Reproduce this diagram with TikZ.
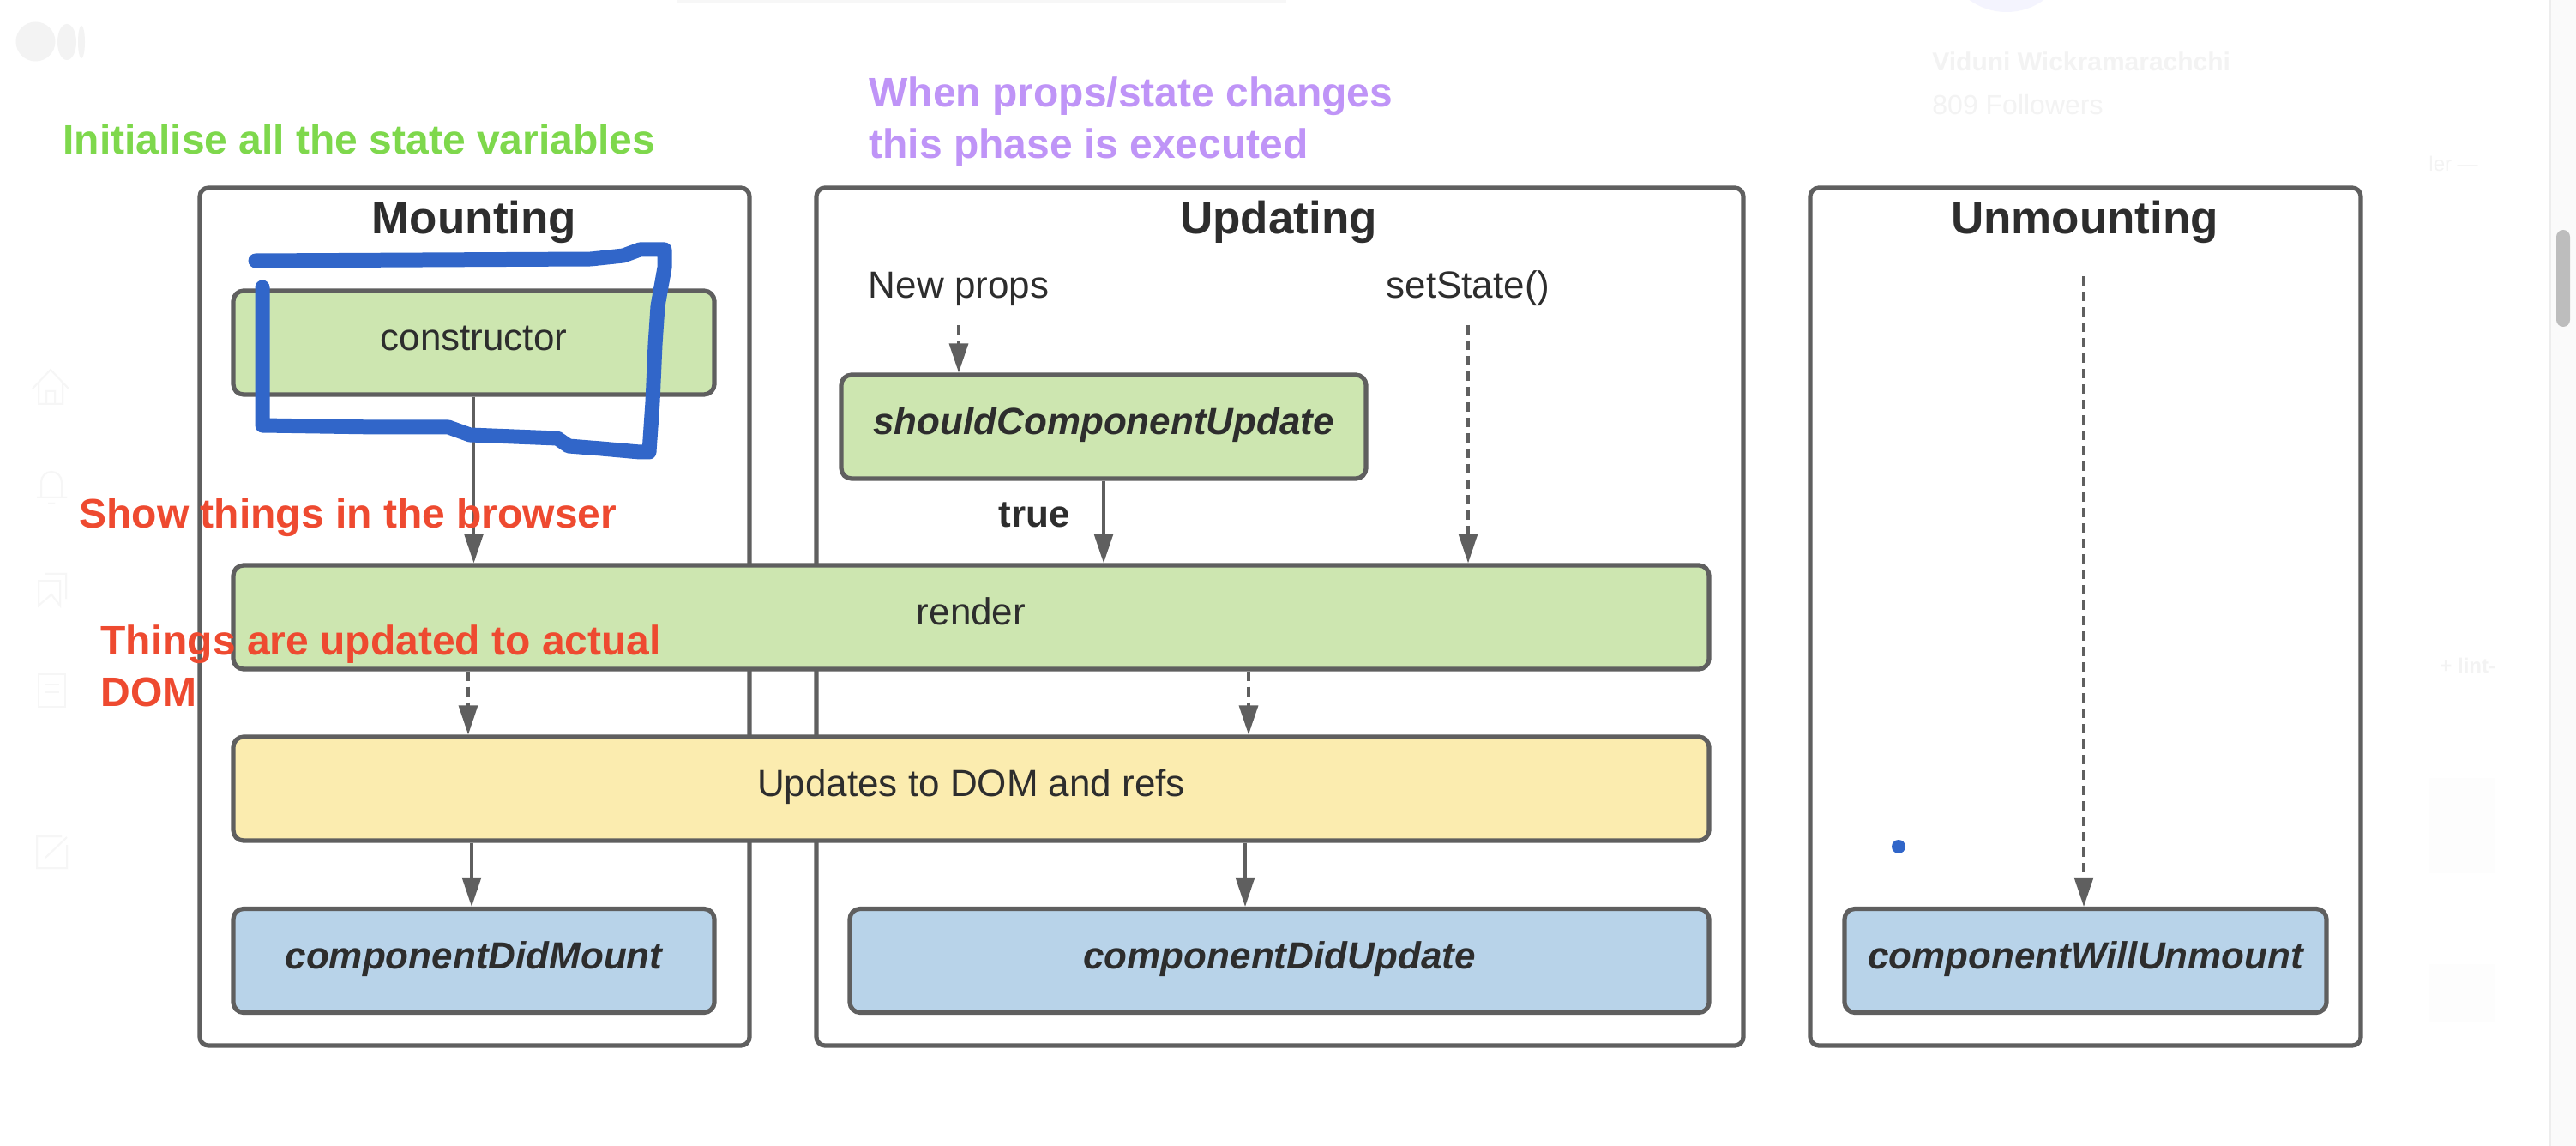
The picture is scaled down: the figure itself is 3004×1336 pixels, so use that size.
\documentclass[tikz,border=0pt]{standalone}
\usepackage{fontspec}
\setmainfont{Liberation Sans}
\usetikzlibrary{arrows.meta}
\definecolor{linegray}{HTML}{5F5F5F}
\definecolor{inkgray}{HTML}{2D2D2D}
\definecolor{taskgreen}{HTML}{CDE6B0}
\definecolor{taskyellow}{HTML}{FBECAF}
\definecolor{taskblue}{HTML}{B8D3E9}
\definecolor{notegreen}{HTML}{7ED84C}
\definecolor{notepurple}{HTML}{BF94F7}
\definecolor{notered}{HTML}{EE4A30}
\definecolor{penblue}{HTML}{3166C9}
\definecolor{ghost}{HTML}{F3F3F3}
\begin{document}
\begin{tikzpicture}
[
    x=0.5pt, y=-0.5pt,
    panel/.style={draw=linegray, line width=2.6pt, fill=white, rounded corners=5pt, inner sep=0pt},
    task/.style={draw=linegray, line width=2.6pt, rounded corners=6pt, inner sep=0pt, text=inkgray, text height=14pt, text depth=5pt, font=\fontsize{22}{26}\selectfont},
    hook/.style={task, font=\fontsize{22}{26}\selectfont\bfseries\itshape},
    title/.style={anchor=base, inner sep=0pt, text=inkgray, font=\fontsize{26.5}{30}\selectfont\bfseries},
    caption/.style={anchor=base, inner sep=0pt, text=inkgray, font=\fontsize{22}{26}\selectfont},
    note/.style={anchor=base west, inner sep=0pt, align=left, font=\fontsize{24}{30}\selectfont\bfseries},
    flow/.style={draw=linegray, line width=1.6pt, -{Triangle[length=17pt,width=11pt]}},
    dashflow/.style={flow, dash pattern=on 5.5pt off 3.5pt},
    faint/.style={draw=ghost!75, line width=1pt},
]
\useasboundingbox (0,0) rectangle (3004,1336);
\fill[white] (0,0) rectangle (3004,1336);

\fill[ghost!70] (790,0) rectangle (1500,3);
\fill[ghost] (41.5,48.5) ellipse [x radius=11.5pt, y radius=11.5pt];
\fill[ghost] (78,49) ellipse [x radius=5.5pt, y radius=10.5pt];
\fill[ghost] (95,49) ellipse [x radius=2pt, y radius=9.5pt];
\fill[ghost!60!blue!10] (2340,-60) circle [radius=37pt];
\node[anchor=base west, inner sep=0pt, text=ghost, font=\fontsize{15}{18}\selectfont\bfseries] (authorname) at (2253,83) {Viduni Wickramarachchi};
\node[anchor=base west, inner sep=0pt, text=ghost, font=\fontsize{16}{18}\selectfont] (followers) at (2253,134) {809 Followers};
\node[anchor=base west, inner sep=0pt, text=ghost, font=\fontsize{12}{14}\selectfont] (sideone) at (2832,200) {ler —};
\node[anchor=base west, inner sep=0pt, text=ghost, font=\fontsize{12}{14}\selectfont\bfseries] (sidetwo) at (2845,784) {+ lint-};
\fill[ghost!15] (2832,907) rectangle (2910,1018);
\fill[ghost!15] (2832,1124) rectangle (2910,1192);
\draw[faint] (38,453) -- (59,431) -- (80,453) (45,447) -- (45,471) -- (73,471) -- (73,447) (54,471) -- (54,456) -- (64,456) -- (64,471);
\draw[faint] (43,580) -- (78,580) (48,580) -- (48,562) arc [start angle=180, end angle=0, radius=6pt] -- (72,580) (56,587) -- (64,587);
\draw[faint] (45,677) -- (45,706) -- (60,693) -- (70,706) -- (70,677) -- cycle (52,669) -- (77,669) -- (77,698);
\draw[faint] (45,786) rectangle (76,824) (52,798) -- (69,798) (52,807) -- (69,807);
\draw[faint] (72,975) -- (43,975) -- (43,1012) -- (78,1012) -- (78,985) (53,1000) -- (78,976);
\fill[black!2] (2974,0) rectangle (3004,1336);
\draw[black!7, line width=0.8pt] (2974,0) -- (2974,1336);
\fill[black!26, rounded corners=4pt] (2981,268) rectangle (2997,381);

\node[panel, minimum width=320.5pt, minimum height=500pt] (mounting) at (553.5,719) {};
\node[panel, minimum width=540.5pt, minimum height=500pt] (updating) at (1492.5,719) {};
\node[panel, minimum width=321pt, minimum height=500pt] (unmounting) at (2432,719) {};
\node[title] (mountingtitle) at (553,273) {Mounting};
\node[title] (updatingtitle) at (1491,273) {Updating};
\node[title] (unmountingtitle) at (2431,273) {Unmounting};

\node[task, fill=taskgreen, minimum width=280.5pt, minimum height=60.5pt] (constructor) at (552.5,399.5) {constructor};
\node[hook, fill=taskgreen, minimum width=306pt, minimum height=60.5pt] (should) at (1287,497.5) {shouldComponentUpdate};
\node[task, fill=taskgreen, minimum width=860.5pt, minimum height=60.5pt] (render) at (1132.5,719.5) {render};
\node[task, fill=taskyellow, minimum width=860.5pt, minimum height=60.5pt] (updates) at (1132.5,919.5) {Updates to DOM and refs};
\node[hook, fill=taskblue, minimum width=280.5pt, minimum height=60.5pt] (didmount) at (552.5,1120) {componentDidMount};
\node[hook, fill=taskblue, minimum width=501pt, minimum height=60.5pt] (didupdate) at (1492,1120) {componentDidUpdate};
\node[hook, fill=taskblue, minimum width=281pt, minimum height=60.5pt] (willunmount) at (2432,1120) {componentWillUnmount};

\node[caption] (newprops) at (1118,348) {New props};
\node[caption] (setstate) at (1712,348) {setState()};
\node[caption, font=\fontsize{22}{26}\selectfont\bfseries] (truelabel) at (1206,615) {true};

\coordinate (propsdrop) at (1118,379);
\coordinate (statedrop) at (1712,379);
\coordinate (unmountdrop) at (2430,322);
\coordinate (dashleft) at (546,0);
\coordinate (dashright) at (1456,0);
\coordinate (solidleft) at (550,0);
\coordinate (solidright) at (1452,0);

\draw[flow] (constructor.south) -- (render.north -| constructor.south);
\draw[flow] (should.south) -- (render.north -| should.south);
\draw[dashflow] (propsdrop) -- (should.north -| propsdrop);
\draw[dashflow] (statedrop) -- (render.north -| statedrop);
\draw[dashflow] (render.south -| dashleft) -- (updates.north -| dashleft);
\draw[dashflow] (render.south -| dashright) -- (updates.north -| dashright);
\draw[flow] (updates.south -| solidleft) -- (didmount.north -| solidleft);
\draw[flow] (updates.south -| solidright) -- (didupdate.north -| solidright);
\draw[dashflow] (unmountdrop) -- (willunmount.north -| unmountdrop);

\node[note, text=notegreen] (initnote) at (73,180) {Initialise all the state variables};
\node[note, text=notepurple] (phasenote) at (1013,185) {When props/state changes\\this phase is executed};
\node[note, text=notered] (shownote) at (92,616) {Show things in the browser};
\node[note, text=notered] (domnote) at (117,823) {Things are updated to actual\\DOM};

\draw[penblue, line width=8.5pt, line cap=round, line join=round]
    (298,304) -- (689,302) -- (727,298) -- (746,291) -- (775,291) -- (775,312) -- (767,357) -- (764,402)
    -- (761,469) -- (757,527) -- (746,527) -- (701,523) -- (663,520) -- (650,511) -- (548,507) -- (523,498)
    -- (440,498) -- (306,496) -- (306,335);
\fill[penblue] (2214,987) circle [radius=4pt];
\end{tikzpicture}
\end{document}
